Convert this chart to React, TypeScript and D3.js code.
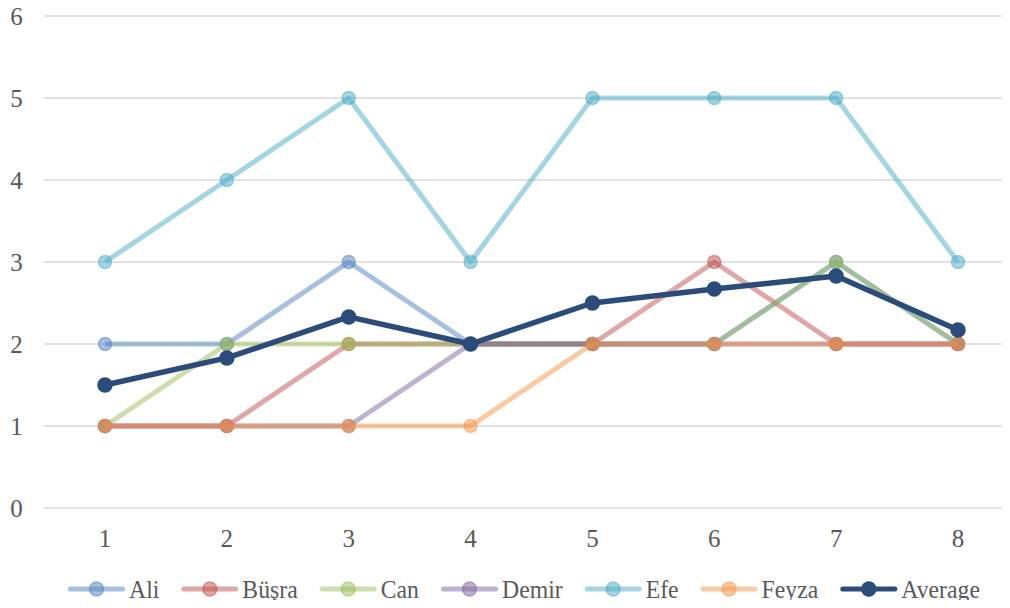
import React, { useEffect, useRef } from 'react';
import * as d3 from 'd3';

// chart data
const weeks = [1, 2, 3, 4, 5, 6, 7, 8];
const ali = [2, 2, 3, 2, 2, 2, 3, 2];
const busra = [1, 1, 2, 2, 2, 3, 2, 2];
const can = [1, 2, 2, 2, 2, 2, 3, 2];
const demir = [1, 1, 1, 2, 2, 2, 2, 2];
const efe = [3, 4, 5, 3, 5, 5, 5, 3];
const feyza = [1, 1, 1, 1, 2, 2, 2, 2];
const average = [1.5, 1.83, 2.33, 2, 2.5, 2.67, 2.83, 2.17];
const yTicks = [0, 1, 2, 3, 4, 5, 6];

interface Series {
  name: string;
  values: number[];
  color: string;
  faded: boolean;
}

const series: Series[] = [
  { name: 'Ali', values: ali, color: '#4F81BD', faded: true },
  { name: 'Büşra', values: busra, color: '#C0504D', faded: true },
  { name: 'Can', values: can, color: '#9BBB59', faded: true },
  { name: 'Demir', values: demir, color: '#8064A2', faded: true },
  { name: 'Efe', values: efe, color: '#4BACC6', faded: true },
  { name: 'Feyza', values: feyza, color: '#F79646', faded: true },
  { name: 'Average', values: average, color: '#2B4C7A', faded: false },
];

const W = 1010;
const H = 608;
const FONT = '"Liberation Serif", "Times New Roman", serif';
const SQUISH = 0.95; // legend text is a touch narrower in the original

const App: React.FC = () => {
  const svgRef = useRef<SVGSVGElement>(null);

  useEffect(() => {
    if (!svgRef.current) return;
    const svg = d3.select(svgRef.current);
    svg.selectAll('*').remove();

    const x = d3.scalePoint<number>().domain(weeks).range([105, 958]);
    const y = d3.scaleLinear().domain([0, 6]).range([508, 16]);
    const step = x.step();

    // gridlines
    svg
      .append('g')
      .selectAll('line')
      .data(yTicks)
      .enter()
      .append('line')
      .attr('x1', 105 - step / 2)
      .attr('x2', 958 + step / 2)
      .attr('y1', (d) => y(d))
      .attr('y2', (d) => y(d))
      .style('stroke', '#d9d9d9')
      .style('stroke-width', 1.5);

    // y labels
    svg
      .append('g')
      .selectAll('text')
      .data(yTicks)
      .enter()
      .append('text')
      .attr('x', 16.5)
      .attr('y', (d) => y(d))
      .attr('dy', '0.34em')
      .attr('text-anchor', 'middle')
      .style('font-family', FONT)
      .style('font-size', '25px')
      .style('fill', '#595959')
      .text((d) => d);

    // x labels
    svg
      .append('g')
      .selectAll('text')
      .data(weeks)
      .enter()
      .append('text')
      .attr('x', (d) => x(d)!)
      .attr('y', 538.5)
      .attr('dy', '0.34em')
      .attr('text-anchor', 'middle')
      .style('font-family', FONT)
      .style('font-size', '25px')
      .style('fill', '#595959')
      .text((d) => d);

    const line = d3
      .line<number>()
      .x((_, i) => x(weeks[i])!)
      .y((d) => y(d));

    series.forEach((s) => {
      const g = svg.append('g');
      const op = s.faded ? 0.5 : 1;
      g.append('path')
        .attr('d', line(s.values))
        .style('fill', 'none')
        .style('stroke', s.color)
        .style('stroke-opacity', op)
        .style('stroke-width', s.faded ? 5 : 5.5)
        .style('stroke-linejoin', 'round');
      g.selectAll('circle')
        .data(s.values)
        .enter()
        .append('circle')
        .attr('cx', (_, i) => x(weeks[i])!)
        .attr('cy', (d) => y(d))
        .attr('r', s.faded ? 6.5 : 7)
        .style('fill', s.color)
        .style('fill-opacity', op)
        .style('stroke', s.color)
        .style('stroke-opacity', op)
        .style('stroke-width', 1.5);
    });

    // legend
    const ly = 589;
    const items = svg
      .append('g')
      .selectAll('g')
      .data(series)
      .enter()
      .append('g');
    items.each(function (d) {
      const g = d3.select(this);
      const op = d.faded ? 0.5 : 1;
      g.append('line')
        .attr('x1', 2.5)
        .attr('x2', 54.5)
        .attr('y1', ly)
        .attr('y2', ly)
        .style('stroke', d.color)
        .style('stroke-opacity', op)
        .style('stroke-width', 5)
        .style('stroke-linecap', 'round');
      g.append('circle')
        .attr('cx', 28.5)
        .attr('cy', ly)
        .attr('r', 7)
        .style('fill', d.color)
        .style('fill-opacity', op)
        .style('stroke', d.color)
        .style('stroke-opacity', op)
        .style('stroke-width', 1.5);
      g.append('text')
        .attr('transform', `translate(61,${ly}) scale(${SQUISH},1)`)
        .attr('dy', '0.34em')
        .style('font-family', FONT)
        .style('font-size', '25px')
        .style('fill', '#595959')
        .text(d.name);
    });
    const widths: number[] = [];
    items.select('text').each(function () {
      widths.push((this as SVGTextElement).getComputedTextLength() * SQUISH);
    });
    const gap = 22;
    let cx = 68;
    items.attr('transform', (_, i) => {
      const t = `translate(${cx},0)`;
      cx += 61 + widths[i] + gap;
      return t;
    });
  }, []);

  return (
    <div style={{ margin: -8, width: W, height: H, background: '#fff' }}>
      <svg ref={svgRef} width={W} height={H} style={{ display: 'block' }} />
    </div>
  );
};

export default App;
